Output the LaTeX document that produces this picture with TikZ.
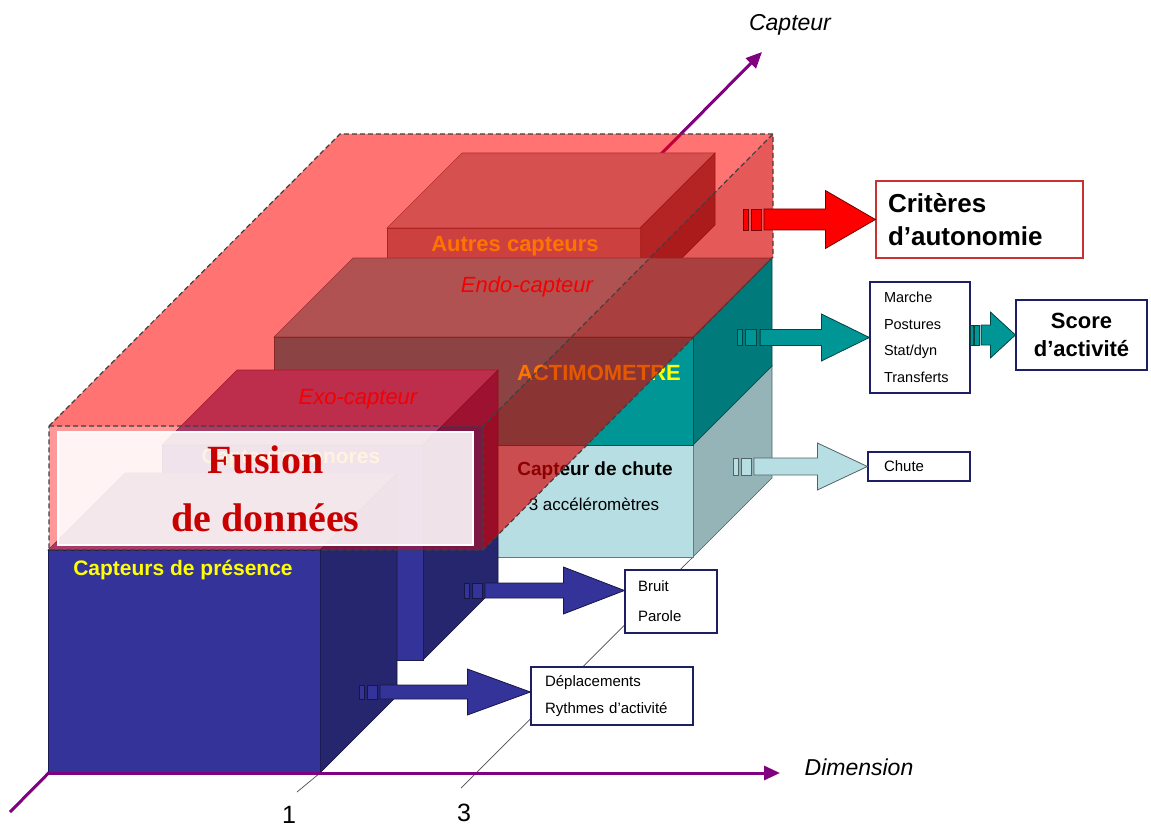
\documentclass[tikz,border=0pt]{standalone}
\usepackage{fontspec}
\setmainfont{Liberation Sans}
\newfontfamily\fusionfont{Liberation Serif}
\usetikzlibrary{arrows.meta,calc}
\definecolor{axispurple}{RGB}{128,0,128}
\definecolor{navyfront}{RGB}{51,51,153}
\definecolor{navytop}{RGB}{110,100,170}
\definecolor{navyside}{RGB}{38,38,110}
\definecolor{tealfront}{RGB}{0,150,150}
\definecolor{tealtop}{RGB}{84,182,182}
\definecolor{tealside}{RGB}{0,122,122}
\definecolor{fallfront}{RGB}{183,222,227}
\definecolor{fallside}{RGB}{148,180,184}
\definecolor{othfront}{RGB}{144,144,144}
\definecolor{othtop}{RGB}{167,178,178}
\definecolor{othside}{RGB}{90,80,80}
\definecolor{veilred}{RGB}{255,0,0}
\definecolor{veildark}{RGB}{215,0,0}
\definecolor{labyellow}{RGB}{255,255,0}
\definecolor{labred}{RGB}{230,0,0}
\definecolor{fusred}{RGB}{200,0,0}
\definecolor{boxnavy}{RGB}{30,30,100}
\definecolor{boxred}{RGB}{200,50,50}
\tikzset{
  >={Triangle[length=16pt,width=14pt]},
  axisline/.style={draw=axispurple,line width=3pt},
  face/.style={fill=#1,draw=#1!55!black,line width=0.6pt},
  dashedge/.style={draw=black!75,line width=1.2pt,dash pattern=on 5pt off 3pt},
  outbox/.style={draw=#1,fill=white,line width=1.2pt,inner sep=0pt},
  outbox/.default=boxnavy,
  barrow/.style={draw=#1!45!black,line width=0.8pt,fill=#1},
  tag/.style={inner sep=0pt,font=\fontsize{#1}{#1}\selectfont},
  tag/.default=22,
  gridline/.style={draw=black!70,line width=0.7pt},
}
% box seen in cavalier view: x1, y1 (top), x2, y2 (bottom), depth, front, top, side
\newcommand{\prism}[8]{%
  \draw[face=#7] (#1,#2) -- (#1+#5,#2-#5) -- (#3+#5,#2-#5) -- (#3,#2) -- cycle;
  \draw[face=#8] (#3,#2) -- (#3+#5,#2-#5) -- (#3+#5,#4-#5) -- (#3,#4) -- cycle;
  \draw[face=#6] (#1,#2) rectangle (#3,#4);
}
% striped block arrow: colour, tail, tip, stripe unit, head length, body half, head half
\newcommand{\stripearrow}[7]{%
  \path (#3) coordinate (sa-tip) (#2 |- #3) coordinate (sa-tail);
  \draw[barrow=#1] ($(sa-tail)+(0,-#6)$) rectangle ($(sa-tail)+(#4,#6)$);
  \draw[barrow=#1] ($(sa-tail)+(1.6*#4,-#6)$) rectangle ($(sa-tail)+(3.6*#4,#6)$);
  \draw[barrow=#1] ($(sa-tail)+(4.2*#4,-#6)$) -- ($(sa-tip)+(-#5,-#6)$) -- ($(sa-tip)+(-#5,-#7)$)
    -- (sa-tip) -- ($(sa-tip)+(-#5,#7)$) -- ($(sa-tip)+(-#5,#6)$) -- ($(sa-tail)+(4.2*#4,#6)$) -- cycle;
}
\begin{document}
\begin{tikzpicture}[x=1pt,y=-1pt]
  \useasboundingbox (0,0) rectangle (1151,829);
  \coordinate (capFoot) at (10,812);
  \coordinate (origin) at (48,773);
  \coordinate (capTip) at (762,52);
  \coordinate (dimTip) at (780,773);
  \draw[axisline,->] (capFoot) -- (capTip);
  \draw[gridline] (297,792) -- (320,773);
  \draw[gridline] (461,788) -- (693,557);

  % sensor blocks, back to front
  \prism{387}{228}{640}{300}{75}{othfront}{othtop}{othside}
  \prism{274}{445}{693}{557}{79}{fallfront}{fallfront}{fallside}
  \prism{274}{337}{693}{445}{79}{tealfront}{tealtop}{tealside}
  \prism{162}{445}{423}{660}{75}{navyfront}{navytop}{navyside}
  \prism{48}{550}{320}{773}{77}{navyfront}{navytop}{navyside}

  \node[tag,text=labyellow,font=\fontsize{22}{22}\selectfont\bfseries] (lblAutres) at (515,246) {Autres capteurs};
  \node[tag,text=labred,font=\fontsize{22}{22}\selectfont\itshape] (lblEndo) at (527,287) {Endo-capteur};
  \node[tag,text=labyellow,font=\fontsize{22}{22}\selectfont\bfseries] (lblAct) at (599,373) {ACTIMOMETRE};
  \node[tag,font=\fontsize{19}{19}\selectfont\bfseries] (lblFall) at (595,471) {Capteur de chute};
  \node[tag=17] (lblAcc) at (594,504) {3 accéléromètres};
  \node[tag,text=labred,font=\fontsize{22}{22}\selectfont\itshape] (lblExo) at (358,399) {Exo-capteur};
  \node[tag,text=labyellow,font=\fontsize{21}{21}\selectfont\bfseries] (lblSon) at (291,458) {Capteurs sonores};
  \node[tag,text=labyellow,font=\fontsize{21}{21}\selectfont\bfseries] (lblPres) at (183,570) {Capteurs de présence};

  % translucent fusion volume
  \fill[veilred,fill opacity=0.55] (49,426) -- (340,134) -- (773,134) -- (483,426) -- cycle;
  \fill[veildark,fill opacity=0.65] (483,426) -- (773,134) -- (773,257) -- (483,550) -- cycle;
  \fill[veilred,fill opacity=0.4] (49,426) rectangle (483,550);
  \node[draw=white,line width=1.5pt,fill=white,fill opacity=0.88,text opacity=1,inner sep=0pt,
    minimum width=415pt,minimum height=113pt,align=center,text=fusred,
    font=\fusionfont\fontsize{40}{58}\selectfont\bfseries] (fusion) at (265.5,488.5) {Fusion\\de données};
  \draw[dashedge] (49,426) -- (340,134) -- (773,134) -- (773,257) -- (483,550) -- (49,550) -- cycle;
  \draw[dashedge] (49,426) -- (483,426) -- (773,134) (483,426) -- (483,550);

  \draw[axisline,->] (origin) -- (dimTip);
  \node[tag=23,font=\fontsize{23}{23}\selectfont\itshape] (capName) at (790,25) {Capteur};
  \node[tag=23,font=\fontsize{23}{23}\selectfont\itshape] (dimName) at (859,767) {Dimension};
  \node[tag=25] (dimOne) at (289,815) {1};
  \node[tag=25] (dimThree) at (464,813) {3};

  % outputs
  \node[outbox=boxred,minimum width=207pt,minimum height=77pt,text width=183pt,align=left,
    font=\fontsize{26}{33}\selectfont\bfseries] (crit) at (979.5,219.5) {Critères\\d’autonomie};
  \node[outbox,minimum width=100pt,minimum height=111pt,text width=72pt,align=left,
    font=\fontsize{14.5}{26.5}\selectfont] (mvt) at (920,337.5) {Marche\\Postures\\Stat/dyn\\Transferts};
  \node[outbox,minimum width=131pt,minimum height=70pt,align=center,
    font=\fontsize{22}{28}\selectfont\bfseries] (score) at (1081.5,335) {Score\\d’activité};
  \node[outbox,minimum width=102pt,minimum height=29pt,text width=70pt,align=left,
    font=\fontsize{15}{15}\selectfont] (fall) at (919,466.5) {Chute};
  \node[outbox,minimum width=92pt,minimum height=63pt,text width=66pt,align=left,
    font=\fontsize{15}{30}\selectfont] (noise) at (671,601.5) {Bruit\\Parole};
  \node[outbox,minimum width=162pt,minimum height=58pt,text width=134pt,align=left,
    font=\fontsize{15}{27}\selectfont] (move) at (612,696) {Déplacements\\Rythmes d’activité};

  \coordinate (critOut) at (743,220);
  \coordinate (actOut) at (737,337);
  \coordinate (fallOut) at (733,468);
  \coordinate (sonOut) at (464,590);
  \coordinate (presOut) at (359,692);
  \coordinate (noiseIn) at ($(noise.west)+(0,-11)$);
  \coordinate (moveIn) at ($(move.west)+(0,-4)$);
  \stripearrow{veilred}{critOut}{crit.west}{5}{50}{10.5}{29}
  \stripearrow{tealfront}{actOut}{mvt.west}{5.5}{48}{8}{23.5}
  \stripearrow{tealfront}{mvt.east}{score.west}{2.5}{25}{10}{23}
  \stripearrow{fallfront}{fallOut}{fall.west}{5}{50}{8.5}{23.5}
  \stripearrow{navyfront}{sonOut}{noiseIn}{5}{61}{7.5}{23.5}
  \stripearrow{navyfront}{presOut}{moveIn}{5}{63}{7}{23}
\end{tikzpicture}
\end{document}
